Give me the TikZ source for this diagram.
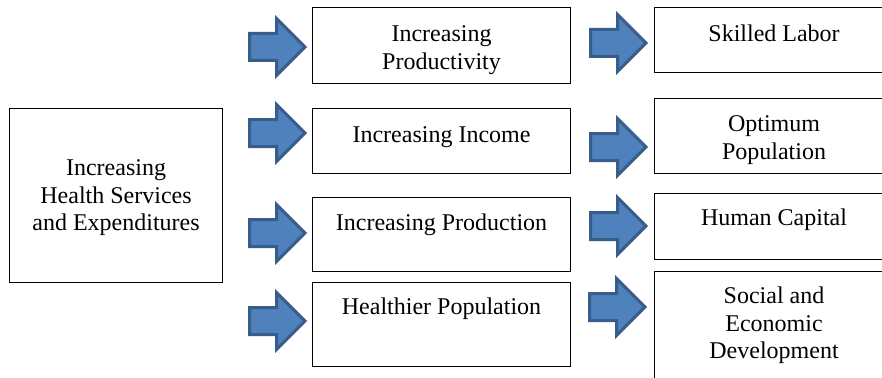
\documentclass[tikz,border=0pt]{standalone}
\usepackage{fontspec}
\setmainfont{Liberation Serif}
\definecolor{arrowfill}{HTML}{4F81BD}
\definecolor{arrowedge}{HTML}{385D8A}
\newcommand{\boxtext}[4]{\parbox[c][#2pt][t]{#1pt}{\centering\rule{0pt}{#3pt}#4}}
\tikzset{
  box/.style={draw=black, line width=1.1pt, inner sep=0pt, anchor=north west,
    font=\fontsize{24}{27.5}\selectfont},
  arrowline/.style={draw=arrowedge, fill=arrowfill, line width=3pt, line join=miter},
  barrow/.pic={\path[arrowline] (1.5,-13.5) -- (28.5,-13.5) -- (28.5,-28.5) -- (57,0)
      -- (28.5,28.5) -- (28.5,13.5) -- (1.5,13.5) -- cycle;}
}
\begin{document}
\begin{tikzpicture}[x=1pt,y=-1pt]
\clip (0,0) rectangle (882,377);
\fill[white] (0,0) rectangle (882,377);
% left box
\node[box] (l) at (9,108) {\boxtext{213}{174}{67}{Increasing\\Health Services\\and Expenditures}};
% middle column
\node[box] (m1) at (312,7)   {\boxtext{258}{76}{34}{Increasing\\Productivity}};
\node[box] (m2) at (312,108) {\boxtext{258}{65}{34}{Increasing Income}};
\node[box] (m3) at (312,197) {\boxtext{258}{74}{33}{Increasing Production}};
\node[box] (m4) at (312,282) {\boxtext{258}{84}{32}{Healthier Population}};
% right column
\node[box] (r1) at (654,7)   {\boxtext{239}{65}{34}{Skilled Labor}};
\node[box] (r2) at (654,98)  {\boxtext{239}{75}{33}{Optimum\\Population}};
\node[box] (r3) at (654,193) {\boxtext{239}{66}{32}{Human Capital}};
\node[box] (r4) at (654,271) {\boxtext{239}{124}{32}{Social and\\Economic\\Development}};
% block arrows
\pic at (248,47)  {barrow};
\pic at (248,133) {barrow};
\pic at (248,233) {barrow};
\pic at (248,321) {barrow};
\pic at (589,43)  {barrow};
\pic at (589,147) {barrow};
\pic at (589,226) {barrow};
\pic at (588,307) {barrow};
\end{tikzpicture}
\end{document}
